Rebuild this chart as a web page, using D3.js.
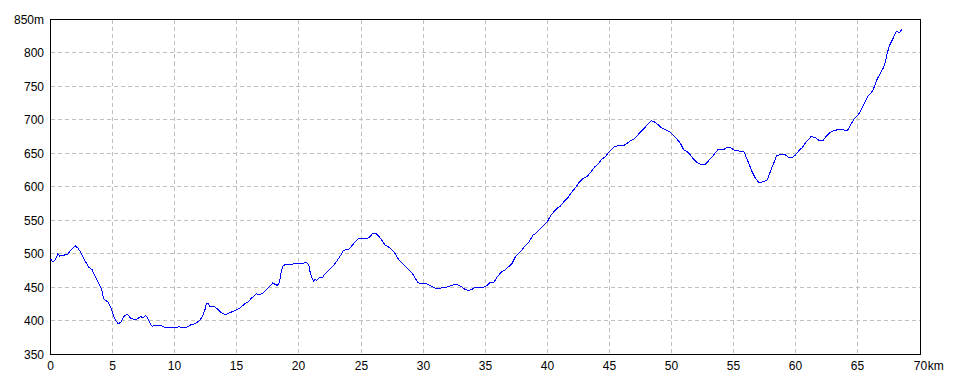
<!DOCTYPE html>
<html><head><meta charset="utf-8">
<script src="https://cdn.jsdelivr.net/npm/d3@7"></script>
<style>
html,body{margin:0;padding:0;background:#fff;}
svg{display:block;}
text{font-family:"Liberation Sans","DejaVu Sans",sans-serif;font-size:12px;fill:#000;}
</style></head>
<body>
<svg id="chart" width="960" height="384"></svg>
<script>
const distKm = [0,0.2,0.4,0.6,0.74,1.0,1.4,1.6,2.0,2.2,2.5,2.75,3.07,3.35,3.56,3.83,4.1,4.28,4.63,4.9,5.17,5.44,5.65,5.92,6.16,6.46,6.73,7.0,7.26,7.45,7.64,7.8,7.99,8.18,8.34,8.93,9.2,10.0,10.4,10.67,10.94,11.29,11.6,11.94,12.2,12.42,12.55,12.69,12.8,13.2,13.5,13.76,14.08,14.43,14.84,15.24,15.64,15.9,16.18,16.58,16.85,17.2,17.52,17.9,18.09,18.27,18.43,18.57,18.7,18.89,19.43,19.56,20.37,20.64,20.8,20.9,21.04,21.17,21.3,21.44,21.63,21.92,22.11,22.51,22.84,23.18,23.4,23.59,23.8,23.99,24.18,24.53,24.8,25.47,25.66,25.93,26.22,26.41,26.68,26.95,27.22,27.48,27.75,28.02,28.29,28.56,28.83,29.09,29.31,29.58,29.9,30.3,30.57,30.89,31.05,31.38,31.78,32.05,32.45,32.8,33.12,33.39,33.66,33.93,34.11,34.87,35.14,35.4,35.67,35.95,36.35,36.61,37.15,37.42,37.82,38.09,38.49,38.84,39.03,39.3,39.7,40.02,40.24,40.51,40.77,41.04,41.36,41.71,41.98,42.33,42.52,42.87,43.19,43.46,43.78,44.13,44.32,44.67,44.99,45.34,45.61,46.15,46.42,46.69,46.96,47.36,47.76,48.08,48.35,48.56,48.83,49.23,49.64,49.9,50.17,50.44,50.71,50.98,51.24,51.51,51.78,52.05,52.26,52.72,52.99,53.39,53.71,54.14,54.47,54.73,55.0,55.4,55.81,55.94,56.21,56.48,56.75,57.02,57.42,57.69,57.88,58.09,58.28,58.44,58.63,59.17,59.43,59.7,59.97,60.24,60.51,60.86,61.23,61.58,61.93,62.2,62.47,62.79,63.06,63.6,63.87,64.14,64.41,64.68,64.99,65.26,65.53,65.8,66.15,66.34,66.55,66.82,67.04,67.23,67.36,67.58,67.85,68.09,68.35,68.57];
const elevM = [492.5,487.5,491,500,496.5,497.5,499,505,511.5,508.5,500,490,480,476,467.5,457.5,447.5,432.5,427.5,417.5,402.5,395,397.5,406,410,403.5,401.5,402.5,406,403.5,407.5,405,396.5,391.5,392.5,392.5,390,390,390.5,389,389.5,393.5,395,399,405,415,425,426,421.5,421,416.5,411.5,408.5,411.5,415,418.5,425,427.5,433.5,440,438.5,442.5,448.5,456.5,454,452.5,457.5,472.5,481.5,483.5,484,485,486,486.5,482.5,472.5,463.5,459,461.5,460,464,465,470,477.5,483.5,492.5,498.5,505,506,506.5,510,517.5,522.5,522.5,524,530,530,526.5,520,512.5,510,506,500,491.5,486.5,481.5,476.5,471.5,465,456.5,455,455,452.5,449,447.5,448.5,449.5,451,453.5,453.5,450,446.5,445,446.5,449,449.5,452.5,457.5,456.5,465,473.5,476,485,495,502.5,509,516.5,527.5,530,535,542.5,548.5,556,562.5,567.5,571,578.5,585,592.5,600,606,612.5,615,621,629,635,640,645,652.5,659,661,661.5,665,668.5,671,679,686.5,693.5,698.5,697.5,694,687.5,684,681.5,676,671,665,655,652.5,647.5,641,636.5,634,633.5,639,647.5,655,655,659,659,655,653.5,652.5,647.5,635,622.5,612.5,606.5,607.5,610,619,630,637.5,646.5,647.5,647.5,643.5,643.5,647.5,653.5,658.5,667.5,675,673.5,668.5,669,676,681.5,684,686,685,683.5,692.5,701,706.5,715,725,735,742.5,750,761,770,777.5,787.5,800,812.5,822.5,832.5,830,836];
const xTicks = [0,5,10,15,20,25,30,35,40,45,50,55,60,65,70];
const yTicks = [350,400,450,500,550,600,650,700,750,800,850];

const svg = d3.select("#chart");
const x = d3.scaleLinear().domain([0,70]).range([50.5,920]);
const y = d3.scaleLinear().domain([350,850]).range([354,19.5]);
const px = v => Math.round(x(v)-0.5)+0.5;
const py = v => Math.round(y(v)-0.5)+0.5;

// grid
const grid = svg.append("g").attr("stroke","#c0c0c0").attr("stroke-dasharray","4,3").attr("shape-rendering","crispEdges");
grid.selectAll("line.v").data(xTicks.filter(d=>d>0&&d<70)).enter().append("line")
  .attr("x1",d=>px(d)).attr("x2",d=>px(d)).attr("y1",py(850)).attr("y2",py(350));
grid.selectAll("line.h").data(yTicks.filter(d=>d>350&&d<850)).enter().append("line")
  .attr("y1",d=>py(d)).attr("y2",d=>py(d)).attr("x1",px(0)).attr("x2",px(70));

// border
svg.append("rect").attr("x",px(0)).attr("y",py(850)).attr("width",px(70)-px(0)).attr("height",py(350)-py(850))
  .attr("fill","none").attr("stroke","#000").attr("stroke-width",1).attr("shape-rendering","crispEdges");

// line
const pts = distKm.map((d,i)=>[d,elevM[i]]);
svg.append("path").datum(pts)
  .attr("d", d3.line().x(d=>x(d[0])).y(d=>y(d[1])))
  .attr("fill","none").attr("stroke","#0000ff").attr("stroke-width",1).attr("shape-rendering","crispEdges");

// y labels
svg.selectAll("text.yl").data(yTicks).enter().append("text")
  .attr("x",44).attr("y",d=>py(d)+4.5).attr("text-anchor","end")
  .text(d=> d===850 ? "850m" : String(d));

// x labels
xTicks.forEach(d=>{
  const t = svg.append("text").attr("x",px(d)).attr("y",370).attr("text-anchor","middle").text(String(d));
  if(d===70){
    const w = t.node().getComputedTextLength();
    svg.append("text").attr("x",px(d)+w/2+0.5).attr("y",370).attr("text-anchor","start").text("km");
  }
});
</script>
</body></html>
